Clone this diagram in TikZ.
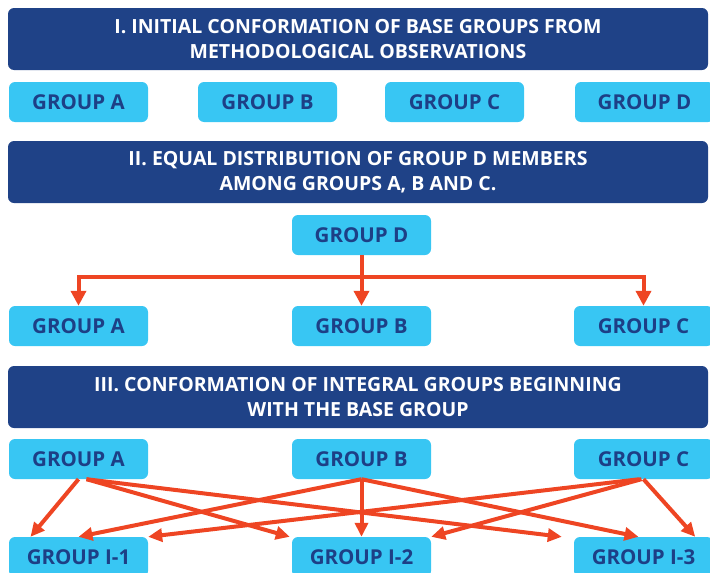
\documentclass[tikz,border=0pt]{standalone}
\usepackage{fontspec}
\setmainfont{Open Sans}
\usetikzlibrary{arrows.meta,calc,positioning}
\definecolor{bannerblue}{HTML}{1F4287}
\definecolor{skyblue}{HTML}{38C6F3}
\definecolor{inkblue}{HTML}{1D3F86}
\definecolor{arrowred}{HTML}{EE4523}
\tikzset{
  banner/.style={
    rounded corners=6pt,
    fill=bannerblue,
    text=white,
    align=center,
    minimum width=700pt,
    minimum height=62pt,
    inner sep=0pt,
    font=\fontsize{19.5}{25}\selectfont\bfseries
  },
  grupo/.style={
    rounded corners=6pt,
    fill=skyblue,
    text=inkblue,
    align=center,
    minimum width=139pt,
    minimum height=40pt,
    inner sep=0pt,
    font=\fontsize{20.5}{22}\selectfont\bfseries
  },
  reparto/.style={
    -{Triangle[length=15pt,width=15pt]},
    line width=4pt,
    arrowred
  },
  cruce/.style={
    -{Triangle[length=14pt,width=13pt]},
    line width=4pt,
    arrowred
  }
}
\begin{document}
\begin{tikzpicture}[x=1pt,y=-1pt]
\useasboundingbox (0,0) rectangle (710,573);
% I. base groups
\node[banner] (t1) at (358,39) {I. INITIAL CONFORMATION OF BASE GROUPS FROM\\METHODOLOGICAL OBSERVATIONS};
\node[grupo] (a1) at (78.5,102) {GROUP A};
\node[grupo] (b1) at (267.5,102) {GROUP B};
\node[grupo] (c1) at (454.5,102) {GROUP C};
\node[grupo] (d1) at (644.5,102) {GROUP D};
% II. distribution of group D
\node[banner] (t2) at (358,172) {II. EQUAL DISTRIBUTION OF GROUP D MEMBERS\\AMONG GROUPS A, B AND C.};
\node[grupo] (d2) at (361.5,235) {GROUP D};
\node[grupo] (a2) at (78.5,326) {GROUP A};
\node[grupo] (b2) at (361.5,326) {GROUP B};
\node[grupo] (c2) at (643.5,326) {GROUP C};
\coordinate (hub) at (361.5,277);
\draw[line width=4pt,arrowred] (d2.south) -- (hub);
\draw[reparto] (hub) -| (a2.north);
\draw[reparto] (hub) -| (c2.north);
\draw[reparto] (hub) -- (b2.north);
% III. integral groups
\node[banner] (t3) at (358,397) {III. CONFORMATION OF INTEGRAL GROUPS BEGINNING\\WITH THE BASE GROUP};
\node[grupo] (a3) at (78.5,459) {GROUP A};
\node[grupo] (b3) at (361.5,459) {GROUP B};
\node[grupo] (c3) at (643.5,459) {GROUP C};
\node[grupo] (i1) at (78.5,557) {GROUP I-1};
\node[grupo] (i2) at (361.5,557) {GROUP I-2};
\node[grupo] (i3) at (643.5,557) {GROUP I-3};
\draw[cruce] (a3.south) -- ([xshift=-48pt]i1.north);
\draw[cruce] ([xshift=8pt]a3.south) -- ([xshift=-2pt]i2.north west);
\draw[cruce] ([xshift=8pt]a3.south) -- ([xshift=-12pt]i3.north west);
\draw[cruce] (b3.south) -- (i1.north);
\draw[cruce] (b3.south) -- (i2.north);
\draw[cruce] (b3.south) -- ([xshift=-5pt]i3.north);
\draw[cruce] ([xshift=-4pt]c3.south) -- (i1.north east);
\draw[cruce] ([xshift=-2pt]c3.south) -- (i2.north east);
\draw[cruce] (c3.south) -- ([xshift=-18pt]i3.north east);
\end{tikzpicture}
\end{document}
